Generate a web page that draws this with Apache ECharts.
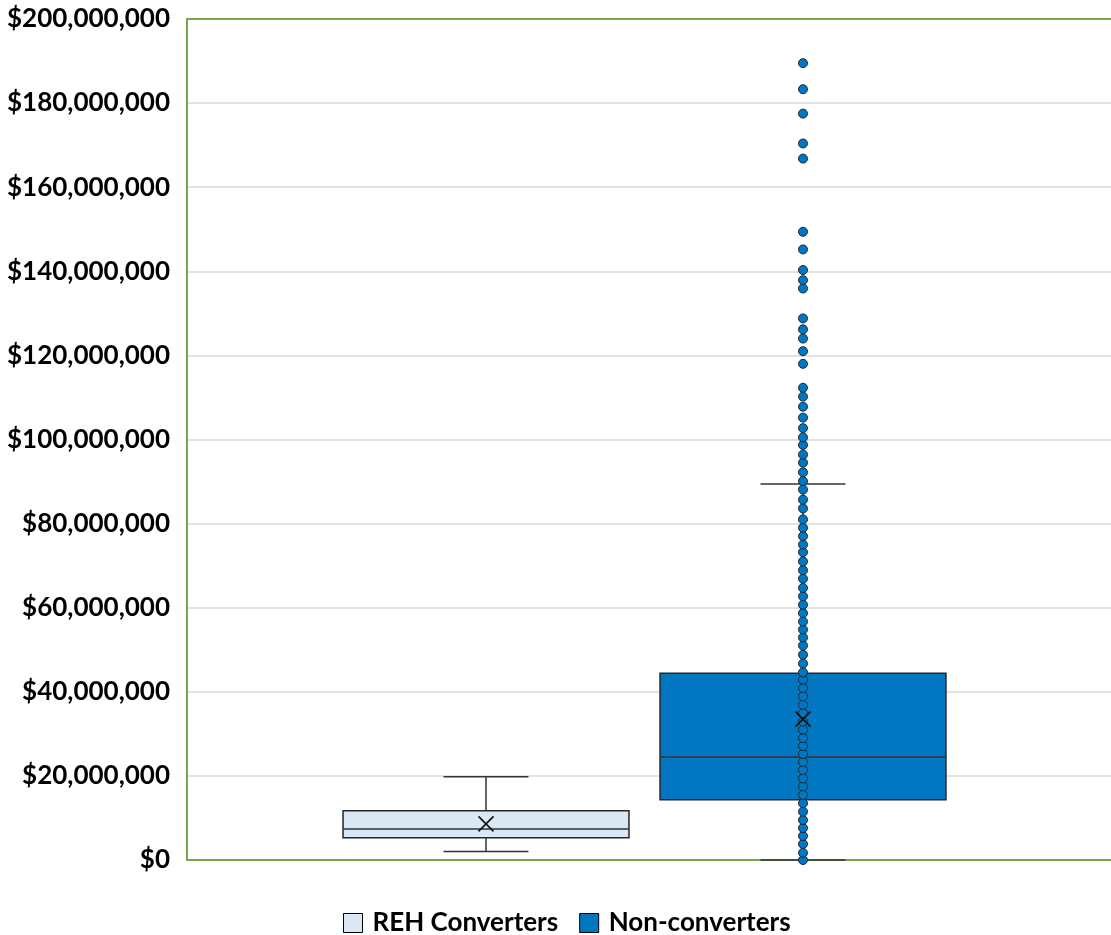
<!DOCTYPE html>
<html>
<head>
<meta charset="utf-8">
<script src="https://cdn.jsdelivr.net/npm/echarts@6/dist/echarts.min.js"></script>
<style>
  html, body { margin: 0; padding: 0; background: #fff; }
  #chart { width: 1111px; height: 935px; }
</style>
</head>
<body>
<div id="chart"></div>
<script>
// Groups shown on the chart
const groups = ['REH Converters', 'Non-converters'];

// Box statistics per group, in millions of dollars
const whiskerLow = [2.0, 0];
const quartile1 = [5.3, 14.3];
const medians = [7.4, 24.5];
const quartile3 = [11.7, 44.4];
const whiskerHigh = [19.8, 89.4];
const means = [8.6, 33.5];

// Individual Non-converters values plotted as points, in millions of dollars
const nonConverterPoints = [
  0, 1.7, 3.8, 5.7, 7.6, 9.5, 11.5, 13.5, 15.5, 17.5, 19.4, 21.4, 23.3, 25.2,
  27.1, 29.0, 31.0, 32.9, 34.9, 36.9, 38.9, 40.9, 42.9, 44.6, 46.7,
  48.8, 51.0, 52.9, 54.8, 56.7, 58.7, 60.7, 62.7, 64.7, 66.9, 68.9, 71.0,
  73.2, 75.0, 77.0, 79.0, 81.0, 83.6, 85.7, 88.1, 90.1,
  92.2, 94.5, 96.4, 98.7, 100.5, 102.7, 105.2, 107.8, 110.2, 112.3,
  118.0, 121.0, 124.0, 126.2, 128.8,
  135.9, 137.9, 140.3, 145.2, 149.4, 166.8, 170.4, 177.5, 183.3, 189.5
];

// Value axis range and tick step, in millions
const yMin = 0, yMax = 200, yStep = 20;

const fills = ['#dae8f6', '#0077c0'];
const frameColor = '#72a84c';
const fontFamily = 'Lato, "Open Sans", sans-serif';

function formatDollars(v) {
  return '$' + Math.round(v * 1e6).toLocaleString('en-US');
}

function renderBox(params, api) {
  const cat = api.value(0);
  const band = api.size([1, 0])[0];
  const half = band * 0.451;
  const capHalf = band * 0.134;
  const cx = api.coord([cat, 0])[0];
  const yLo = api.coord([cat, api.value(1)])[1];
  const yQ1 = api.coord([cat, api.value(2)])[1];
  const yMed = api.coord([cat, api.value(3)])[1];
  const yQ3 = api.coord([cat, api.value(4)])[1];
  const yHi = api.coord([cat, api.value(5)])[1];
  const line = { stroke: '#333333', lineWidth: 1.5 };
  const fill = fills[cat];
  return {
    type: 'group',
    children: [
      { type: 'line', shape: { x1: cx, y1: yQ3, x2: cx, y2: yHi }, style: line },
      { type: 'line', shape: { x1: cx, y1: yQ1, x2: cx, y2: yLo }, style: line },
      { type: 'line', shape: { x1: cx - capHalf, y1: yHi, x2: cx + capHalf, y2: yHi }, style: line },
      { type: 'line', shape: { x1: cx - capHalf, y1: yLo, x2: cx + capHalf, y2: yLo }, style: line },
      { type: 'rect', shape: { x: cx - half, y: yQ3, width: half * 2, height: yQ1 - yQ3 },
        style: { fill: fill, stroke: '#262626', lineWidth: 1.5 } },
      { type: 'line', shape: { x1: cx - half, y1: yMed, x2: cx + half, y2: yMed }, style: line }
    ]
  };
}

function boxSeries(i) {
  return {
    name: groups[i],
    type: 'custom',
    xAxisIndex: 2,
    yAxisIndex: 1,
    z: 2,
    itemStyle: { color: fills[i] },
    renderItem: renderBox,
    data: [[i, whiskerLow[i], quartile1[i], medians[i], quartile3[i], whiskerHigh[i]]]
  };
}

const frameAxis = (position) => ({
  gridIndex: 0, type: 'category', data: [''], position: position,
  axisLine: { show: true, lineStyle: { color: frameColor, width: 2 } },
  axisTick: { show: false }, axisLabel: { show: false }, splitLine: { show: false }
});

const chart = echarts.init(document.getElementById('chart'), null, { renderer: 'canvas' });

chart.setOption({
  animation: false,
  backgroundColor: '#ffffff',
  textStyle: { fontFamily: fontFamily },
  grid: [
    { left: 187, top: 19, right: 0, height: 841 },
    { left: 327.5, top: 19, width: 634, height: 841 }
  ],
  xAxis: [
    frameAxis('bottom'),
    frameAxis('top'),
    { gridIndex: 1, type: 'category', data: groups, show: false }
  ],
  yAxis: [
    {
      gridIndex: 0, type: 'value', min: yMin, max: yMax, interval: yStep,
      axisLine: { show: true, lineStyle: { color: frameColor, width: 2 } },
      axisTick: { show: false },
      axisLabel: {
        formatter: formatDollars, margin: 17, color: '#000',
        fontSize: 26, fontWeight: 'bold', fontFamily: fontFamily
      },
      splitLine: { lineStyle: { color: '#d9d9d9', width: 1.5 } }
    },
    { gridIndex: 1, type: 'value', min: yMin, max: yMax, interval: yStep, show: false,
      splitLine: { show: false } }
  ],
  legend: {
    left: 338, top: 905,
    itemWidth: 19, itemHeight: 19, itemGap: 21,
    textStyle: { fontSize: 26, fontWeight: 'bold', color: '#000', fontFamily: fontFamily,
                 padding: [0, 0, 0, 5] },
    data: [
      { name: groups[0], icon: 'rect', itemStyle: { color: fills[0], borderColor: '#000', borderWidth: 1 } },
      { name: groups[1], icon: 'rect', itemStyle: { color: fills[1], borderColor: '#000', borderWidth: 1 } }
    ]
  },
  series: [
    boxSeries(0),
    boxSeries(1),
    {
      name: groups[1],
      type: 'scatter',
      xAxisIndex: 2,
      yAxisIndex: 1,
      z: 3,
      symbol: 'circle',
      symbolSize: 9,
      itemStyle: { color: '#0077c0', borderColor: '#1c2a38', borderWidth: 1, opacity: 1 },
      data: nonConverterPoints.map(v => [1, v])
    },
    {
      name: 'Mean',
      type: 'scatter',
      xAxisIndex: 2,
      yAxisIndex: 1,
      z: 4,
      symbol: 'path://M0,0L10,10M10,0L0,10',
      symbolSize: [15, 15],
      itemStyle: { color: 'transparent', borderColor: '#111', borderWidth: 1.6, opacity: 1 },
      data: means.map((v, i) => [i, v])
    }
  ]
});
</script>
</body>
</html>
